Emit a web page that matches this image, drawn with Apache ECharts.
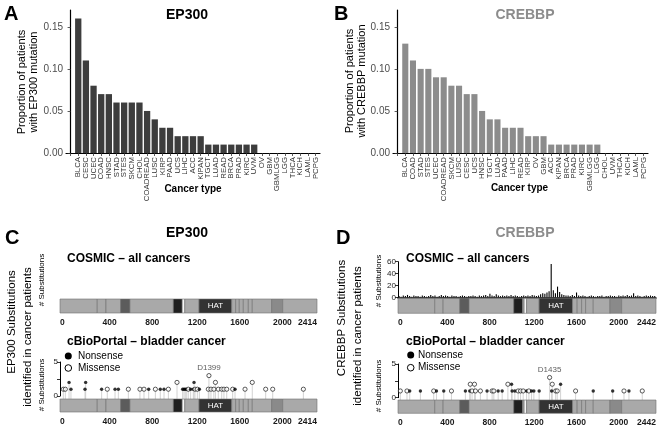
<!DOCTYPE html>
<html><head><meta charset="utf-8">
<script src="https://cdn.jsdelivr.net/npm/echarts@6/dist/echarts.min.js"></script>
<style>html,body{margin:0;padding:0;background:#fff}#c{width:663px;height:429px}</style>
</head><body><div id="c"></div>
<script>
// ---------- Panel A / B data ----------
const epCancer = ['BLCA','CESC','UCEC','COAD','HNSC','STAD','STES','SKCM','CHOL','COADREAD','LUSC','KIRP','PAAD','UCS','LIHC','ACC','KIPAN','TGCT','LUAD','READ','BRCA','PRAD','KIRC','UVM','OV','GBM','GBMLGG','LGG','THCA','KICH','LAML','PCPG'];
const epProp = [0.16,0.11,0.08,0.07,0.07,0.06,0.06,0.06,0.06,0.05,0.04,0.03,0.03,0.02,0.02,0.02,0.02,0.01,0.01,0.01,0.01,0.01,0.01,0.01,0,0,0,0,0,0,0,0];
const cbCancer = ['BLCA','COAD','STAD','STES','UCEC','COADREAD','SKCM','LUSC','CESC','UCS','HNSC','TGCT','LUAD','PAAD','LIHC','READ','KIRP','OV','GBM','ACC','KIPAN','BRCA','PRAD','KIRC','GBMLGG','LGG','CHOL','UVM','THCA','KICH','LAML','PCPG'];
const cbProp = [0.13,0.11,0.10,0.10,0.09,0.09,0.08,0.08,0.07,0.07,0.05,0.04,0.04,0.03,0.03,0.03,0.02,0.02,0.02,0.01,0.01,0.01,0.01,0.01,0.01,0.01,0,0,0,0,0,0];
const propTicks = [0, 0.05, 0.10, 0.15];

// ---------- Protein maps ----------
const epLength = 2414, cbLength = 2442;
const epProteinTicks = [0,400,800,1200,1600,2000,2414];
const cbProteinTicks = [0,400,800,1200,1600,2000,2442];
const epDomStart = [0,350,432,570,657,1065,1148,1172,1306,1613,1650,1684,1722,1769,1806,1988,2092];
const epDomEnd   = [350,432,570,657,1065,1148,1172,1306,1613,1650,1684,1722,1769,1806,1988,2092,2414];
const epDomType  = ['base','base','base','kix','base','bromo','gap','base','hat','base','base','base','base','base','base','ibid','base'];
const cbDomStart = [0,348,427,585,673,1096,1179,1194,1217,1336,1652,1696,1738,1776,1848,2006,2117];
const cbDomEnd   = [348,427,585,673,1096,1179,1194,1217,1336,1652,1696,1738,1776,1848,2006,2117,2442];
const cbDomType  = ['base','base','base','kix','base','bromo','base','gap','base','hat','base','base','base','base','base','ibid','base'];

// ---------- cBioPortal bladder mutations (N = nonsense, M = missense) ----------
const epMutPos   = [31,50,103,235,391,444,517,548,642,751,789,833,896,942,977,1018,1152,1165,1177,1190,1205,1227,1252,1268,1290,1309,1393,1418,1445,1487,1519,1540,1566,1622,1644,1738,1932,1998,2286, 85,241,1099,1259,1460,1806, 1399];
const epMutCount = [1,1,1,1,1,1,1,1,1,1,1,1,1,1,1,1,1,1,1,1,1,1,1,1,1,1,1,1,1,1,1,1,1,1,1,1,1,1,1, 2,2,2,2,2,2, 3];
const epMutType  = ['M','M','N','N','N','M','N','N','M','M','M','N','M','N','N','M','N','N','N','N','M','N','N','M','M','N','M','M','M','M','M','M','M','M','N','M','M','M','M', 'N','N','M','N','M','M', 'M'];
const epHotspotPos = 1399, epHotspotText = 'D1399';

const cbMutPos   = [22,85,111,212,338,364,433,506,638,679,701,733,780,843,891,907,948,986,1080,1106,1137,1160,1185,1217,1239,1264,1286,1336,1454,1492,1507,1681,1848,2032,2139,2186,2312, 684,724,1040,1075,1460,1539, 1435];
const cbMutCount = [1,1,1,1,1,1,1,1,1,1,1,1,1,1,1,1,1,1,1,1,1,1,1,1,1,1,1,1,1,1,1,1,1,1,1,1,1, 2,2,2,2,2,2, 3];
const cbMutType  = ['M','M','N','N','M','N','N','M','N','N','M','M','M','N','M','M','N','N','N','N','M','M','M','N','M','N','N','N','N','M','M','M','N','N','M','N','M', 'M','M','M','N','M','N', 'M'];
const cbHotspotPos = 1435, cbHotspotText = 'D1435';

// ---------- COSMIC CREBBP substitutions per 20-aa bin ----------
const cbCosmicBin = 20;
const cbCosmicCounts = [
 2,1,3,2,4,2,1,3,2,2, 1,3,2,1,2,4,2,3,1,2,
 4,2,3,2,1,3,2,2,1,2, 3,2,1,2,2,3,2,1,3,2,
 3,4,2,6,3,2,5,3,2,3, 2,3,2,4,2,3,2,1,2,3,
 2,3,2,4,3,2,3,5,7,6, 8,10,56,12,7,18,9,5,4,3,
 3,2,4,2,8,3,2,3,2,1, 2,3,2,1,2,2,3,1,2,2,
 3,2,2,1,3,2,3,2,4,2, 3,7,2,3,2,1,2,3,2,3,2,2];
const cosmicTicks = [0,20,40,60];
const lolliTicks = [0,2.5,5];
const lolliLabels = [0,5];

// ---------- build ----------
const FONT = '"Liberation Sans", Arial, Helvetica, sans-serif';
const chart = echarts.init(document.getElementById('c'));
const domainColor = {base:'#a9a9a9', kix:'#5c5c5c', bromo:'#1f1f1f', gap:'#f6f6f6', hat:'#333333', ibid:'#8a8a8a'};

function catTickPositions(cats){ return [0].concat(cats.map((c,i)=>i+1)); }
function catLabelPositions(cats, parity){ return cats.map((c,i)=>i+1).filter(p => p % 2 === parity); }

function barXAxis(gi, cats, parity, main){
  return {gridIndex:gi, type:'value', position:'bottom', offset:0, min:-0.6, max:cats.length+0.6,
    axisLine:{show:main, onZero:false, lineStyle:{color:'#000', width:1.2}},
    axisTick:{show:main, customValues:catTickPositions(cats), length:3, lineStyle:{color:'#333', width:0.8}},
    axisLabel:{show:true, customValues:catLabelPositions(cats, parity), rotate:90, fontSize:7.8, color:'#333', margin:4, fontFamily:FONT,
      showMinLabel:true, showMaxLabel:true, hideOverlap:false,
      formatter:v=>cats[Math.round(v)-1] || ''},
    splitLine:{show:false}};
}
function barYAxis(gi){
  return {gridIndex:gi, type:'value', min:0, max:0.17,
    axisLine:{show:true, lineStyle:{color:'#000', width:1.2}},
    axisTick:{show:true, customValues:propTicks, length:3, lineStyle:{color:'#333', width:0.8}},
    axisLabel:{show:true, customValues:propTicks, fontSize:10, color:'#4d4d4d', margin:3, fontFamily:FONT,
      showMinLabel:true, showMaxLabel:true, formatter:v=>v.toFixed(2)},
    splitLine:{show:false}};
}
function domXAxis(gi, len, ticks){
  return {gridIndex:gi, type:'value', min:0, max:len,
    axisLine:{show:false}, axisTick:{show:false}, splitLine:{show:false},
    axisLabel:{show:true, customValues:ticks, align:'left', alignMinLabel:'left', alignMaxLabel:'right',
      showMinLabel:true, showMaxLabel:true,
      fontWeight:'bold', fontSize:8.5, color:'#1a1a1a', margin:5, fontFamily:FONT, formatter:v=>String(v)}};
}
function hiddenX(gi, len){ return {gridIndex:gi, type:'value', min:0, max:len, show:false}; }
function hiddenY(gi){ return {gridIndex:gi, type:'value', min:0, max:1, show:false}; }
function lolliYAxis(gi){
  return {gridIndex:gi, type:'value', min:0, max:5,
    axisLine:{show:true, lineStyle:{color:'#000', width:1}},
    axisTick:{show:true, customValues:lolliTicks, length:3, lineStyle:{color:'#000', width:0.8}},
    axisLabel:{show:true, customValues:lolliLabels, fontSize:8, color:'#222', margin:2, fontFamily:FONT,
      showMinLabel:true, showMaxLabel:true},
    splitLine:{show:false}};
}

function domainSeries(xi, yi, starts, ends, types){
  return {type:'custom', xAxisIndex:xi, yAxisIndex:yi, silent:true, z:2,
    data: starts.map((s,i)=>[s, ends[i], i]),
    encode:{x:[0,1], y:2},
    renderItem(params, api){
      const t = types[api.value(2)];
      const p0 = api.coord([api.value(0), 1]);
      const p1 = api.coord([api.value(1), 0]);
      const children = [{type:'rect', shape:{x:p0[0], y:p0[1], width:p1[0]-p0[0], height:p1[1]-p0[1]},
        style:{fill:domainColor[t], stroke:'#6f6f6f', lineWidth:0.6}}];
      if (t === 'hat') children.push({type:'text', style:{text:'HAT', x:(p0[0]+p1[0])/2, y:(p0[1]+p1[1])/2,
        fill:'#fff', fontSize:8, fontFamily:FONT, align:'center', verticalAlign:'middle'}});
      return {type:'group', children};
    }};
}
function stemSeries(xi, yi, pos, cnt){
  return {type:'custom', xAxisIndex:xi, yAxisIndex:yi, silent:true, z:1,
    data: pos.map((p,i)=>[p, cnt[i]]),
    renderItem(params, api){
      const top = api.coord([api.value(0), api.value(1)]);
      const base = api.coord([api.value(0), 0]);
      return {type:'line', shape:{x1:top[0], y1:base[1]+3, x2:top[0], y2:top[1]}, style:{stroke:'#c6c6c6', lineWidth:0.8}};
    }};
}
function pointSeries(xi, yi, pos, cnt, type, hsPos, hsText){
  return {type:'scatter', xAxisIndex:xi, yAxisIndex:yi, silent:true, z:3,
    data: pos.map((p,i)=>{
      const item = {value:[p, cnt[i]], symbol:'circle'};
      if (type[i] === 'N'){ item.symbolSize = 3.4; item.itemStyle = {color:'#000', borderWidth:0}; }
      else { item.symbolSize = 4.2; item.itemStyle = {color:'#fff', borderColor:'#000', borderWidth:0.8}; }
      if (p === hsPos) item.label = {show:true, formatter:hsText, position:'top', distance:1.5, fontSize:8, color:'#333', fontFamily:FONT};
      return item;
    })};
}

function txt(text, x, y, o){
  o = o || {};
  return {type:'text', x:x, y:y, rotation:o.rot||0, silent:true,
    style:{text:text, fill:o.color||'#000', font:(o.bold?'bold ':'')+(o.size||11)+'px '+FONT,
      align:o.align||'center', verticalAlign:o.va||'middle'}};
}
const R = Math.PI/2;

const option = {
  animation:false,
  backgroundColor:'#fff',
  grid:[
    {left:66, top:10, width:254, height:143},
    {left:393, top:10, width:255, height:143},
    {left:60, top:299, width:257, height:14},
    {left:60, top:362, width:257, height:34},
    {left:60, top:399, width:257, height:13},
    {left:398, top:261.7, width:258, height:35.6},
    {left:398, top:298.3, width:258, height:15},
    {left:398, top:364, width:258, height:33.7},
    {left:398, top:400, width:258, height:13.3}
  ],
  xAxis:[
    barXAxis(0, epCancer, 1, true),
    barXAxis(1, cbCancer, 1, true),
    domXAxis(2, epLength, epProteinTicks),
    hiddenX(3, epLength),
    domXAxis(4, epLength, epProteinTicks),
    {gridIndex:5, type:'value', min:0, max:cbLength, axisLine:{show:true, onZero:true, lineStyle:{color:'#000', width:1.5}},
      axisTick:{show:false}, axisLabel:{show:false}, splitLine:{show:false}},
    domXAxis(6, cbLength, cbProteinTicks),
    hiddenX(7, cbLength),
    domXAxis(8, cbLength, cbProteinTicks),
    barXAxis(0, epCancer, 0, false),
    barXAxis(1, cbCancer, 0, false)
  ],
  yAxis:[
    barYAxis(0), barYAxis(1),
    hiddenY(2), lolliYAxis(3), hiddenY(4),
    {gridIndex:5, type:'value', min:0, max:60,
      axisLine:{show:true, lineStyle:{color:'#000', width:1}},
      axisTick:{show:true, customValues:cosmicTicks, length:3, lineStyle:{color:'#000', width:0.8}},
      axisLabel:{show:true, customValues:cosmicTicks, fontSize:8, color:'#222', margin:2, fontFamily:FONT,
        showMinLabel:true, showMaxLabel:true},
      splitLine:{show:false}},
    hiddenY(6), lolliYAxis(7), hiddenY(8)
  ],
  series:[
    {type:'bar', xAxisIndex:0, yAxisIndex:0, barWidth:6.3, itemStyle:{color:'#3d3d3d'}, silent:true,
      data:epProp.map((v,i)=>[i+1, v])},
    {type:'bar', xAxisIndex:1, yAxisIndex:1, barWidth:6.1, itemStyle:{color:'#8c8c8c'}, silent:true,
      data:cbProp.map((v,i)=>[i+1, v])},
    domainSeries(2, 2, epDomStart, epDomEnd, epDomType),
    stemSeries(3, 3, epMutPos, epMutCount),
    pointSeries(3, 3, epMutPos, epMutCount, epMutType, epHotspotPos, epHotspotText),
    domainSeries(4, 4, epDomStart, epDomEnd, epDomType),
    {type:'bar', xAxisIndex:5, yAxisIndex:5, barWidth:1.1, itemStyle:{color:'#000'}, silent:true,
      data:cbCosmicCounts.map((v,i)=>[i*cbCosmicBin + cbCosmicBin/2, v])},
    domainSeries(6, 6, cbDomStart, cbDomEnd, cbDomType),
    stemSeries(7, 7, cbMutPos, cbMutCount),
    pointSeries(7, 7, cbMutPos, cbMutCount, cbMutType, cbHotspotPos, cbHotspotText),
    domainSeries(8, 8, cbDomStart, cbDomEnd, cbDomType)
  ],
  graphic:[
    txt('A', 4, 4, {size:20, bold:true, align:'left', va:'top'}),
    txt('B', 334, 4, {size:20, bold:true, align:'left', va:'top'}),
    txt('C', 5, 228, {size:20, bold:true, align:'left', va:'top'}),
    txt('D', 336, 228, {size:20, bold:true, align:'left', va:'top'}),
    txt('EP300', 187, 15, {size:14, bold:true}),
    txt('CREBBP', 525, 15, {size:14, bold:true, color:'#8c8c8c'}),
    txt('EP300', 187, 233, {size:14, bold:true}),
    txt('CREBBP', 525, 233, {size:14, bold:true, color:'#8c8c8c'}),
    txt('Proportion of patients', 21.7, 82, {size:11, rot:R}),
    txt('with EP300 mutation', 34, 82, {size:11, rot:R}),
    txt('Proportion of patients', 349.5, 81, {size:11, rot:R}),
    txt('with CREBBP mutation', 361.5, 81, {size:11, rot:R}),
    txt('Cancer type', 193, 189, {size:10, bold:true}),
    txt('Cancer type', 519.5, 188, {size:10, bold:true}),
    txt('EP300 Substitutions', 12, 322, {size:11.5, rot:R}),
    txt('identified in cancer patients', 27.5, 337, {size:11.5, rot:R}),
    txt('CREBBP Substitutions', 342, 318, {size:11.5, rot:R}),
    txt('identified in cancer patients', 357.5, 336, {size:11.5, rot:R}),
    txt('# Substitutions', 41.7, 280, {size:8, rot:R}),
    txt('# Substitutions', 41.7, 385, {size:8, rot:R}),
    txt('# Substitutions', 378.3, 281, {size:8, rot:R}),
    txt('# Substitutions', 378.3, 386, {size:8, rot:R}),
    txt('COSMIC \u2013 all cancers', 67, 259, {size:12, bold:true, align:'left'}),
    txt('cBioPortal \u2013 bladder cancer', 67, 342, {size:12, bold:true, align:'left'}),
    txt('COSMIC \u2013 all cancers', 406, 259, {size:12, bold:true, align:'left'}),
    txt('cBioPortal \u2013 bladder cancer', 406, 342, {size:12, bold:true, align:'left'}),
    {type:'circle', shape:{cx:68.3, cy:356, r:3.5}, style:{fill:'#000'}, silent:true},
    {type:'circle', shape:{cx:68.3, cy:368, r:3.3}, style:{fill:'#fff', stroke:'#000', lineWidth:1}, silent:true},
    txt('Nonsense', 78, 356, {size:10, align:'left'}),
    txt('Missense', 78, 368, {size:10, align:'left'}),
    {type:'circle', shape:{cx:410.7, cy:355, r:3.5}, style:{fill:'#000'}, silent:true},
    {type:'circle', shape:{cx:410.7, cy:367.7, r:3.3}, style:{fill:'#fff', stroke:'#000', lineWidth:1}, silent:true},
    txt('Nonsense', 418, 355, {size:10, align:'left'}),
    txt('Missense', 418, 367.7, {size:10, align:'left'})
  ]
};
chart.setOption(option);
</script>
</body></html>
